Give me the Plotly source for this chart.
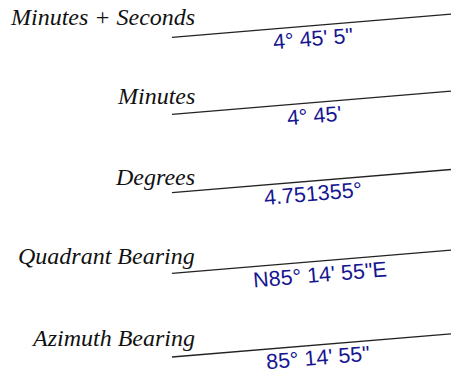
import math
import plotly.graph_objects as go

# data
row_labels = ['Minutes + Seconds', 'Minutes', 'Degrees', 'Quadrant Bearing', 'Azimuth Bearing']
angle_texts = ['4° 45\' 5"', "4° 45'", '4.751355°', 'N85° 14\' 55"E', '85° 14\' 55"']
angle_deg = 4.751355  # slope of the line

# layout (pixel space of the 451x374 page)
W, H = 451, 374
line_x0, line_x1 = 172, 451
line_y0 = [37.3, 114.3, 192.7, 273.3, 357.0]      # left end of each line
label_y = [17.0, 95.5, 176.5, 255.5, 337.5]
label_x = 197
text_x = [313, 314, 313, 320, 318]
text_off = 13.5

slope = math.tan(math.radians(angle_deg))

fig = go.Figure()
annotations = []
for i, lab in enumerate(row_labels):
    y0 = line_y0[i]
    y1 = y0 - slope * (line_x1 - line_x0)
    fig.add_trace(go.Scatter(
        x=[line_x0, line_x1], y=[y0, y1],
        mode='lines',
        line=dict(color='#222222', width=1.3),
        hoverinfo='skip', showlegend=False
    ))
    annotations.append(dict(
        x=label_x, y=label_y[i], xref='x', yref='y',
        text=lab, showarrow=False,
        xanchor='right', yanchor='middle',
        font=dict(family='Liberation Serif, Times New Roman, serif',
                  size=24, color='#111111', style='italic')
    ))
    tx = text_x[i]
    ty = y0 - slope * (tx - line_x0) + text_off
    annotations.append(dict(
        x=tx, y=ty, xref='x', yref='y',
        text=angle_texts[i], showarrow=False,
        xanchor='center', yanchor='middle',
        textangle=-angle_deg,
        font=dict(family='Liberation Sans, Arial, sans-serif',
                  size=21.5, color='#161690')
    ))

fig.update_layout(
    width=W, height=H,
    margin=dict(l=0, r=0, t=0, b=0),
    paper_bgcolor='white', plot_bgcolor='white',
    xaxis=dict(range=[0, W], visible=False, fixedrange=True),
    yaxis=dict(range=[H, 0], visible=False, fixedrange=True),
    annotations=annotations,
    showlegend=False
)

# drop the default page margin so plot pixels line up with the window
fig.write_html('out.html', config={'displayModeBar': False},
               post_script="document.body.style.margin='0';document.body.style.overflow='hidden';")
